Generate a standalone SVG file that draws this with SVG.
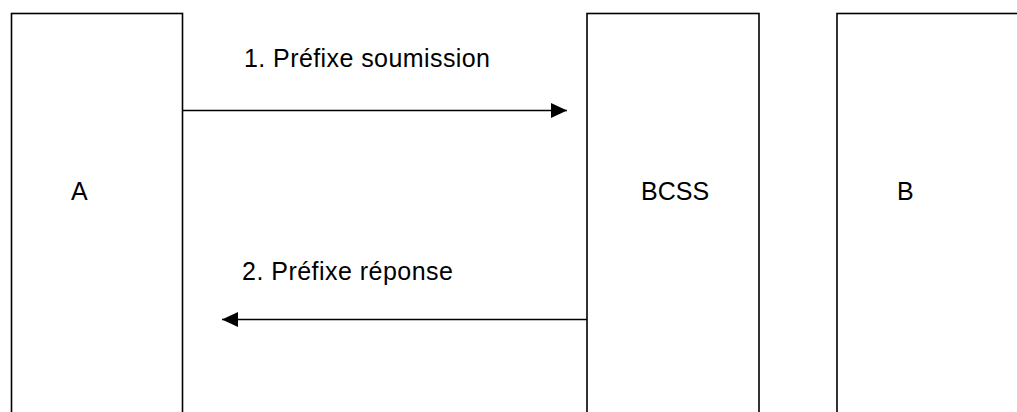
<svg xmlns="http://www.w3.org/2000/svg" width="1017" height="412" viewBox="0 0 1017 412">
<style>
.box{fill:#fff;stroke:#000;stroke-width:1.6}
.lbl{font-family:"Liberation Sans",Arial,sans-serif;font-size:25px;fill:#000}
.conn{stroke:#000;stroke-width:1.4;fill:none}
</style>
<defs>
<marker id="ah" viewBox="0 0 16 15" refX="16" refY="7.5" markerWidth="16" markerHeight="15" markerUnits="userSpaceOnUse" orient="auto">
<path d="M0,0 L16,7.5 L0,15 Z" fill="#000"/>
</marker>
</defs>
<rect width="1017" height="412" fill="#fff"/>
<g id="node-A">
<rect class="box" x="11.5" y="13.5" width="171" height="420"/>
<text class="lbl" x="71" y="200">A</text>
</g>
<g id="node-BCSS">
<rect class="box" x="587" y="13.5" width="172" height="420"/>
<text class="lbl" x="641" y="200">BCSS</text>
</g>
<g id="node-B">
<rect class="box" x="837" y="13.5" width="200" height="420"/>
<text class="lbl" x="897" y="200">B</text>
</g>
<g id="connectors">
<line class="conn" x1="183" y1="110.5" x2="567" y2="110.5" marker-end="url(#ah)"/>
<text class="lbl" x="244" y="67" textLength="246" lengthAdjust="spacing">1. Préfixe soumission</text>
<line class="conn" x1="587" y1="319.5" x2="222" y2="319.5" marker-end="url(#ah)"/>
<text class="lbl" x="242" y="280" textLength="211" lengthAdjust="spacing">2. Préfixe réponse</text>
</g>
</svg>
